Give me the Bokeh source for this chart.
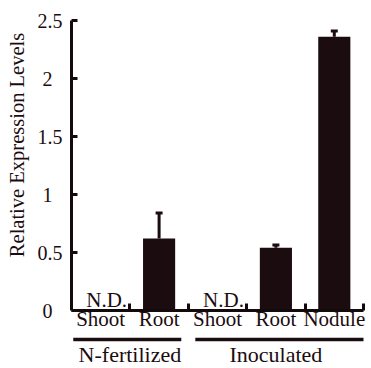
from bokeh.plotting import figure
from bokeh.models import (Range1d, FixedTicker, CustomJSTickFormatter,
                          Whisker, TeeHead, ColumnDataSource)
from bokeh.layouts import column
from bokeh.embed import file_html
from bokeh.resources import INLINE
from bokeh.core.properties import value

# ---- data ----
categories = ["Shoot", "Root", "Shoot", "Root", "Nodule"]
groups = ["N-fertilized", "N-fertilized", "Inoculated", "Inoculated", "Inoculated"]
values = [None, 0.62, None, 0.54, 2.36]        # None = N.D.
errors = [None, 0.22, None, 0.025, 0.05]
nd_text = "N.D."
y_ticks = [0, 0.5, 1, 1.5, 2, 2.5]
y_title = "Relative Expression Levels"

# ---- style ----
FONT = "Liberation Serif"
INK = "#1b0c0f"
AX = "#140a0c"
NB = "\u00a0"
W = 369
H1 = 333
H2 = 35
LEFT = 71
FRAME_W = 292
RIGHT = W - LEFT - FRAME_W

n = len(categories)
xc = [i + 0.5 for i in range(n)]

p = figure(width=W, height=H1, x_range=Range1d(0, n), y_range=Range1d(0, 2.5),
           output_backend="svg", toolbar_location=None, title=None,
           min_border_left=LEFT, min_border_right=RIGHT,
           min_border_top=20, min_border_bottom=22)
p.grid.visible = False
p.outline_line_color = None

bx = [x for x, v in zip(xc, values) if v is not None]
bt = [v for v in values if v is not None]
be = [v + e for v, e in zip(values, errors) if v is not None]
src = ColumnDataSource(dict(x=bx, top=bt, upper=be))
p.vbar(x="x", top="top", width=0.55, source=src, fill_color=INK, line_color=None)
wh = Whisker(base="x", upper="upper", lower="top", source=src,
             line_color=INK, line_width=3,
             upper_head=TeeHead(size=7, line_width=3, line_color=INK),
             lower_head=None)
p.add_layout(wh)

ndx = [x for x, v in zip(xc, values) if v is None]
p.text(x=ndx, y=[0] * len(ndx), text=[nd_text] * len(ndx), x_offset=6, y_offset=-11,
       text_align="center", text_baseline="alphabetic",
       text_font=value(FONT), text_font_size="21px", text_color=INK)

# x axis: labels at category centres, tick marks at category boundaries
xa = p.xaxis[0]
xa.ticker = FixedTicker(ticks=xc, minor_ticks=list(range(1, n + 1)))
xa.formatter = CustomJSTickFormatter(args=dict(labels=categories),
                                     code="return labels[Math.floor(tick)]")
xa.major_tick_in = 0
xa.major_tick_out = 0
xa.minor_tick_in = 7
xa.minor_tick_out = 0
xa.minor_tick_line_width = 3
xa.minor_tick_line_color = AX
xa.axis_line_width = 3
xa.axis_line_color = AX
xa.major_label_standoff = -4
xa.major_label_text_font = FONT
xa.major_label_text_font_size = "21px"
xa.major_label_text_color = INK

# y axis
ya = p.yaxis[0]
ya.ticker = FixedTicker(ticks=y_ticks, minor_ticks=[])
ya.formatter = CustomJSTickFormatter(
    args=dict(pad=NB + NB),
    code="const s = tick.toString(); return s.length == 1 ? s + pad : s")
ya.major_tick_in = 6
ya.major_tick_out = 0
ya.major_tick_line_width = 3
ya.major_tick_line_color = AX
ya.axis_line_width = 3
ya.axis_line_color = AX
ya.major_label_standoff = 9
ya.major_label_text_font = FONT
ya.major_label_text_font_size = "20px"
ya.major_label_text_color = INK
ya.axis_label = NB * 8 + y_title
ya.axis_label_standoff = 7
ya.axis_label_text_font = FONT
ya.axis_label_text_font_size = "20.5px"
ya.axis_label_text_font_style = "normal"
ya.axis_label_text_color = INK

# ---- group row ----
q = figure(width=W, height=H2, x_range=p.x_range, y_range=Range1d(0, 1),
           output_backend="svg", toolbar_location=None, title=None,
           x_axis_location=None, y_axis_location=None,
           min_border_left=LEFT, min_border_right=RIGHT,
           min_border_top=0, min_border_bottom=0)
q.grid.visible = False
q.outline_line_color = None

gnames, gstart, gend = [], [], []
for i, g in enumerate(groups):
    if not gnames or gnames[-1] != g:
        gnames.append(g); gstart.append(i); gend.append(i + 1)
    else:
        gend[-1] = i + 1
pad = 0.12
gx0 = [s + (pad if s > 0 else 0.03) for s in gstart]
gx1 = [e - (pad if e < n else -0.05) for e in gend]
gmid = [(s + e) / 2 for s, e in zip(gstart, gend)]
q.segment(x0=gx0, y0=[0.83] * len(gnames), x1=gx1, y1=[0.83] * len(gnames),
          line_width=3.5, line_color=INK)
q.text(x=gmid, y=[0.4] * len(gnames), text=gnames, text_align="center",
       text_baseline="alphabetic", text_font=value(FONT), text_font_size="22px",
       text_color=INK)

layout = column(p, q)
open("out.html", "w").write(file_html(layout, INLINE))
